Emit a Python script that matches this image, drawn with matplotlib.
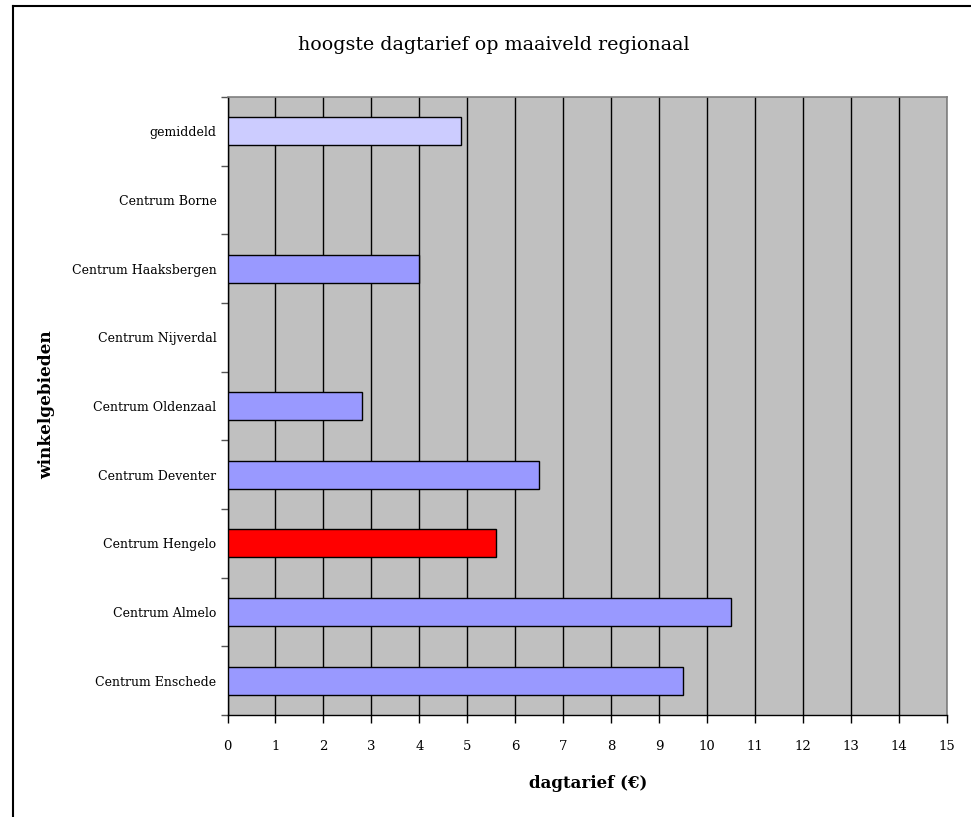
import matplotlib
matplotlib.use("Agg")
import matplotlib.pyplot as plt
from matplotlib.lines import Line2D
import numpy as np

# Categories listed top to bottom
categories = [
    "gemiddeld",
    "Centrum Borne",
    "Centrum Haaksbergen",
    "Centrum Nijverdal",
    "Centrum Oldenzaal",
    "Centrum Deventer",
    "Centrum Hengelo",
    "Centrum Almelo",
    "Centrum Enschede",
]
tarief = [4.86, 0, 4.0, 0, 2.8, 6.5, 5.6, 10.5, 9.5]
bar_colors = ["#CCCCFF", "#9999FF", "#9999FF", "#9999FF", "#9999FF",
              "#9999FF", "#FF0000", "#9999FF", "#9999FF"]
x_ticks = list(range(0, 16))

plt.rcParams["font.family"] = ["DejaVu Serif"]

fig = plt.figure(figsize=(9.71, 8.17), dpi=100)
W, H = 971, 817
ax = fig.add_axes([227.5 / W, 1 - 715 / H, (947 - 227.5) / W, (715 - 97) / H])
ax.set_facecolor("#C0C0C0")

y = np.arange(len(categories))
widths = [1.0 if v > 0 else 0.0 for v in tarief]
ax.barh(y, tarief, height=0.41, color=bar_colors, edgecolor="black",
        linewidth=widths, zorder=3)

ax.set_xlim(0, 15)
ax.set_ylim(len(categories) - 0.5, -0.5)

ax.set_xticks(x_ticks)
ax.set_xticklabels([str(t) for t in x_ticks], fontsize=9.5)
ax.xaxis.grid(True, color="black", linewidth=1.0, zorder=1)
ax.set_axisbelow(True)

# Tick marks between categories, labels at category centres
ax.set_yticks(np.arange(-0.5, len(categories), 1.0))
ax.set_yticklabels([])
ax.set_yticks(y, minor=True)
ax.set_yticklabels(categories, minor=True, fontsize=9)
ax.tick_params(axis="y", which="minor", length=0, pad=8)
ax.tick_params(axis="y", which="major", length=5, width=1, color="#555555")
ax.tick_params(axis="x", length=6, width=1, pad=12)

for side in ("top", "right"):
    ax.spines[side].set_color("#808080")
    ax.spines[side].set_linewidth(1.2)
for side in ("left", "bottom"):
    ax.spines[side].set_color("black")
    ax.spines[side].set_linewidth(1.0)

fig.text(494 / W, 1 - 45 / H, "hoogste dagtarief op maaiveld regionaal",
         ha="center", va="center", fontsize=13.7)
fig.text(588 / W, 1 - 783 / H, "dagtarief (€)", ha="center", va="center",
         fontsize=12, fontweight="bold")
fig.text(47 / W, 1 - 405 / H, "winkelgebieden", ha="center", va="center",
         rotation=90, fontsize=12.2, fontweight="bold")

# Chart frame
fig.add_artist(Line2D([12.5 / W, 1.0], [1 - 6 / H, 1 - 6 / H],
                      transform=fig.transFigure, color="black", linewidth=1.5))
fig.add_artist(Line2D([12.5 / W, 12.5 / W], [0.0, 1 - 6 / H],
                      transform=fig.transFigure, color="black", linewidth=1.5))

fig.savefig("out.png", dpi=100)
